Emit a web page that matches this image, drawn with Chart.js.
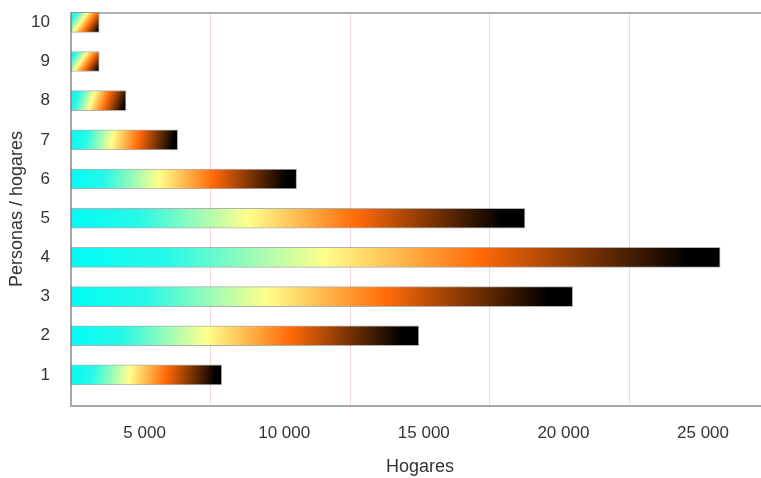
<!DOCTYPE html>
<html>
<head>
<meta charset="utf-8">
<script src="https://cdn.jsdelivr.net/npm/chart.js@4"></script>
<style>
html, body { margin: 0; padding: 0; overflow: hidden; background: #fff; }
#wrap { width: 769px; height: 478px; }
</style>
</head>
<body>
<div id="wrap"><canvas id="myChart"></canvas></div>
<script>
var personas = [1, 2, 3, 4, 5, 6, 7, 8, 9, 10];          // personas por hogar
var hogares = [5400, 12460, 17970, 23250, 16260, 8080, 3820, 1970, 1010, 1010]; // número de hogares
var xTicks = [5000, 10000, 15000, 20000, 25000];
var xTickLabels = ['5 000', '10 000', '15 000', '20 000', '25 000'];

var fontTicks = { family: 'Liberation Sans', size: 17 };
var fontTitle = { family: 'Liberation Sans', size: 18 };

// degradado cian -> amarillo -> naranja -> negro, en diagonal sobre cada barra
function barGradient(context) {
    var chart = context.chart;
    if (!chart.chartArea || context.type !== 'data') return '#00ffff';
    var i = context.dataIndex;
    var x0 = chart.scales.x.getPixelForValue(0);
    var x1 = chart.scales.x.getPixelForValue(hogares[i]);
    var yc = chart.scales.y.getPixelForValue(personas[i]);
    var g = chart.ctx.createLinearGradient(x0, yc - 10, x1, yc + 10);
    g.addColorStop(0, '#00fbf5');
    g.addColorStop(0.15, '#28f8e8');
    g.addColorStop(0.39, '#ffff8c');
    g.addColorStop(0.63, '#ff6a08');
    g.addColorStop(0.95, '#000000');
    g.addColorStop(1, '#000000');
    return g;
}

// quitar el relleno automático que Chart.js deja para las etiquetas
function noPadding(scale) {
    scale.paddingLeft = 0;
    scale.paddingRight = 0;
    scale.paddingTop = 0;
    scale.paddingBottom = 0;
}

var canvas = document.getElementById('myChart');
var ctx = canvas.getContext('2d');
var myChart = new Chart(ctx, {
    type: 'bar',
    data: {
        datasets: [{
            label: 'Hogares',
            data: personas.map(function (p, i) { return { x: hogares[i], y: p }; }),
            backgroundColor: barGradient,
            borderColor: 'rgba(50,60,60,0.4)',
            borderWidth: 1,
            borderSkipped: false,
            barThickness: 20
        }]
    },
    options: {
        indexAxis: 'y',
        responsive: true,
        maintainAspectRatio: false,
        animation: false,
        layout: { padding: 0 },
        plugins: {
            legend: { display: false },
            tooltip: { enabled: false }
        },
        scales: {
            x: {
                type: 'linear',
                position: 'bottom',
                min: 0,
                max: 25000,
                afterFit: function (scale) { scale.height = 72.5; noPadding(scale); },
                grid: { color: '#f2d8dc', lineWidth: 1, drawTicks: false },
                border: { display: true, color: '#a8a8a8', width: 2 },
                ticks: {
                    stepSize: 5000,
                    autoSkip: false,
                    maxRotation: 0,
                    padding: 18,
                    labelOffset: -66,
                    color: '#333',
                    font: fontTicks,
                    callback: function (value) {
                        var k = xTicks.indexOf(value);
                        return k >= 0 ? xTickLabels[k] : '';
                    }
                },
                title: {
                    display: true,
                    text: 'Hogares',
                    color: '#333',
                    font: fontTitle,
                    padding: { top: 0, bottom: 0 }
                }
            },
            x2: {
                type: 'linear',
                position: 'top',
                display: true,
                afterFit: function (scale) { scale.height = 12.5; noPadding(scale); },
                grid: { display: false, drawTicks: false },
                border: { display: true, color: '#b0b0b0', width: 2 },
                ticks: { display: false }
            },
            y: {
                type: 'linear',
                offset: false,
                min: 0.22,
                max: 10.25,
                afterBuildTicks: function (scale) {
                    scale.ticks = personas.map(function (p) { return { value: p }; });
                },
                afterFit: function (scale) { scale.width = 71; noPadding(scale); },
                grid: { display: false, drawTicks: false },
                border: { display: true, color: '#a8a8a8', width: 2 },
                ticks: {
                    padding: 21,
                    color: '#333',
                    font: fontTicks
                },
                title: {
                    display: true,
                    text: 'Personas / hogares',
                    color: '#333',
                    font: fontTitle,
                    padding: { top: 6, bottom: 0 }
                }
            }
        }
    }
});
</script>
</body>
</html>
